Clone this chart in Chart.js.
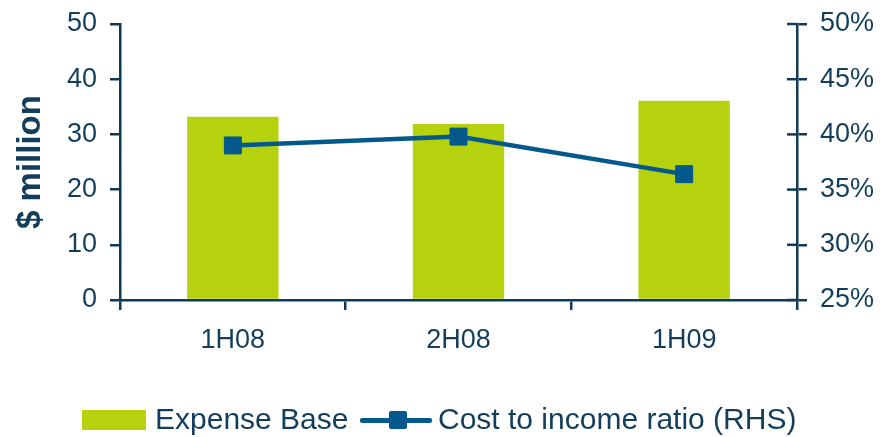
<!DOCTYPE html>
<html>
<head>
<meta charset="utf-8">
<script src="https://cdn.jsdelivr.net/npm/chart.js@4.4.1/dist/chart.umd.min.js"></script>
<style>
  html, body { margin: 0; padding: 0; background: #fff; }
  #wrap { position: relative; width: 888px; height: 437px; font-family: 'Liberation Sans', Arial, sans-serif; color: #123e5c; }
  #chart { position: absolute; left: 0; top: 0; }
  .lg { position: absolute; }
  .lg-text { top: 405px; font-size: 30px; line-height: 28px; white-space: nowrap; }
</style>
</head>
<body>
<div id="wrap">
  <canvas id="chart" width="888" height="437"></canvas>
  <div class="lg" style="left:82px; top:410px; width:64px; height:20px; background:#b6d20e;"></div>
  <div class="lg lg-text" style="left:155px;">Expense Base</div>
  <div class="lg" style="left:360px; top:418px; width:72px; height:4.5px; border-radius:2px; background:#03598c;"></div>
  <div class="lg" style="left:389px; top:411px; width:18px; height:18px; border-radius:2px; background:#03598c;"></div>
  <div class="lg lg-text" style="left:438px;">Cost to income ratio (RHS)</div>
</div>
<script>
const periods = ['1H08', '2H08', '1H09'];
const expenseBase = [33.2, 31.9, 36.1];        // $ million
const costToIncome = [39.0, 39.8, 36.4];       // %, right-hand axis

const navy = '#123e5c';
const axisColor = '#0f3b58';
const green = '#b6d20e';
const blue = '#03598c';

// right axis ticks cross the axis line, so draw the inner half as well
const innerTicks = {
    id: 'innerTicks',
    afterDraw(chart) {
        const s = chart.scales.y1;
        const ctx = chart.ctx;
        ctx.save();
        ctx.strokeStyle = axisColor;
        ctx.lineWidth = 2.5;
        s.ticks.forEach(t => {
            const y = s.getPixelForValue(t.value);
            ctx.beginPath();
            ctx.moveTo(s.left - 10, y);
            ctx.lineTo(s.left, y);
            ctx.stroke();
        });
        ctx.restore();
    }
};

// fixed axis widths; drop the label overhang so the plot top comes from layout padding
function fitSide(width) {
    return scale => {
        scale.width = width;
        scale.paddingTop = 0;
        scale.paddingBottom = 0;
    };
}

const tickFont = { family: "'Liberation Sans', Arial, sans-serif", size: 27 };
const axisGrid = {
    display: true,
    drawOnChartArea: false,
    drawTicks: true,
    tickLength: 10,
    color: axisColor,
    lineWidth: 2.5
};

new Chart(document.getElementById('chart'), {
    type: 'bar',
    data: {
        labels: periods,
        datasets: [{
            type: 'line',
            label: 'Cost to income ratio (RHS)',
            data: costToIncome,
            yAxisID: 'y1',
            borderColor: blue,
            backgroundColor: blue,
            borderWidth: 4.5,
            pointStyle: 'rect',
            pointRadius: 12,
            pointBorderWidth: 1,
            pointBackgroundColor: blue,
            pointBorderColor: blue,
            tension: 0,
            order: 0
        }, {
            label: 'Expense Base',
            data: expenseBase,
            yAxisID: 'y',
            backgroundColor: green,
            categoryPercentage: 1,
            barPercentage: 0.405,
            order: 1
        }]
    },
    options: {
        responsive: false,
        maintainAspectRatio: false,
        animation: false,
        layout: { padding: { top: 24, left: 0, right: 0, bottom: 0 } },
        plugins: {
            legend: { display: false },
            tooltip: { enabled: false }
        },
        scales: {
            x: {
                grid: { ...axisGrid, offset: true },
                border: { display: true, color: axisColor, width: 2.5 },
                ticks: { font: tickFont, color: navy, padding: 14 },
                afterFit: scale => { scale.height = 137; }
            },
            y: {
                position: 'left',
                min: 0,
                max: 50,
                grid: axisGrid,
                border: { display: true, color: axisColor, width: 2.5 },
                ticks: { stepSize: 10, font: tickFont, color: navy, padding: 13 },
                title: {
                    display: true,
                    text: '$ million',
                    color: navy,
                    font: { family: "'Liberation Sans', Arial, sans-serif", size: 33, weight: 'bold' },
                    padding: { top: 11, bottom: 0 }
                },
                afterFit: fitSide(120)
            },
            y1: {
                position: 'right',
                min: 25,
                max: 50,
                grid: axisGrid,
                border: { display: true, color: axisColor, width: 2.5 },
                ticks: { stepSize: 5, font: tickFont, color: navy, padding: 13, callback: v => v + '%' },
                afterFit: fitSide(91)
            }
        }
    },
    plugins: [innerTicks]
});
</script>
</body>
</html>
